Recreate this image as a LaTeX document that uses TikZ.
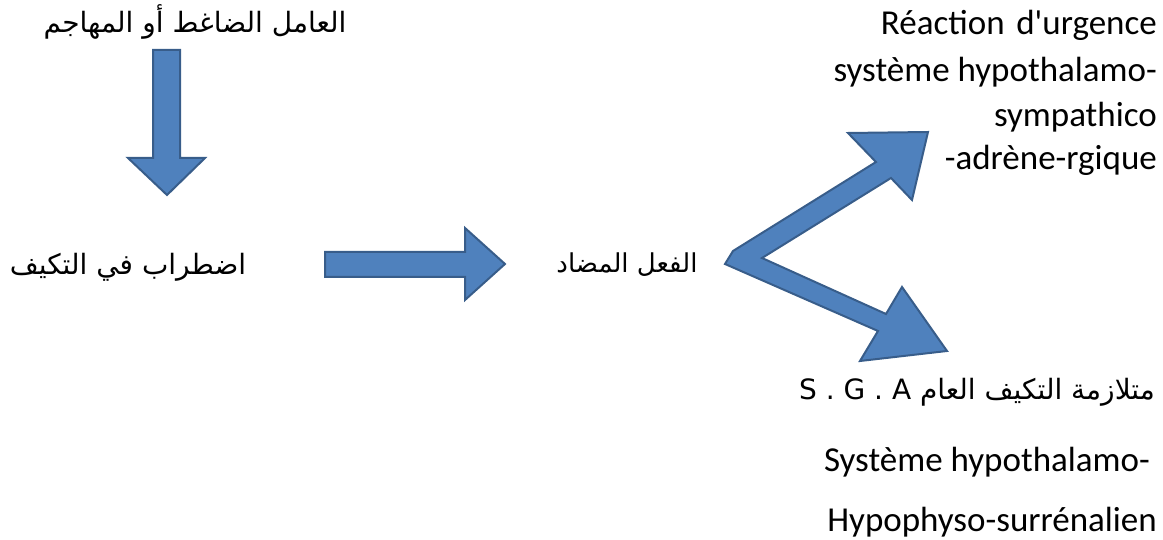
\documentclass[tikz,border=0pt]{standalone}
\usepackage{fontspec}
\TeXXeTstate=1
\newfontfamily\arabicfont[Script=Arabic]{DejaVu Sans}
\newfontfamily\frfont{Carlito}
\definecolor{arrowfill}{HTML}{4F81BD}
\definecolor{arrowedge}{HTML}{385D8A}
\begin{document}
\begin{tikzpicture}[x=1pt,y=-1pt,
  blockarrow/.style={fill=arrowfill, draw=arrowedge, line width=2pt, line join=miter},
  ar/.style={font=\arabicfont\fontsize{28}{32}\selectfont, inner sep=0pt},
  fr/.style={font=\frfont\fontsize{35}{40}\selectfont, inner sep=0pt, anchor=east}]
\useasboundingbox (0,0) rectangle (1163,540);

% texts
\node[ar] (stress) at (195,22) {\beginR العامل الضاغط أو المهاجم\endR};
\node[ar] (disorder) at (128,267) {\beginR اضطراب في التكيف\endR};
\node[ar,font=\arabicfont\fontsize{26}{30}\selectfont] (counter) at (627,265) {\beginR الفعل المضاد\endR};
\node[ar] (sga) at (977,392) {\beginR متلازمة التكيف العام \beginL S . G . A\endL\endR};

\node[fr] (r1) at (1157,25) {Réaction\,\,d'urgence};
\node[fr] (r2) at (1157,72) {système hypothalamo-};
\node[fr] (r3) at (1157,117) {sympathico};
\node[fr] (r4) at (1157,160) {-adrène-rgique};
\node[fr] (s1) at (1150,462) {Système hypothalamo-};
\node[fr] (s2) at (1157,522) {Hypophyso-surrénalien};

% down arrow
\draw[blockarrow] (153,50) -- (180,50) -- (180,158) -- (205,158) -- (167,195)
  -- (128,158) -- (153,158) -- cycle;
% right arrow
\draw[blockarrow] (325,252) -- (465,252) -- (465,228) -- (505,264) -- (465,300)
  -- (465,277) -- (325,277) -- cycle;
% bent double arrow
\draw[blockarrow] (725,264) -- (733,251) -- (876,162) -- (848,133) -- (928,132)
  -- (912,200) -- (891,178) -- (762,258) -- (886,314) -- (902,287) -- (947,351)
  -- (860,361) -- (878,331) -- cycle;
\end{tikzpicture}
\end{document}
